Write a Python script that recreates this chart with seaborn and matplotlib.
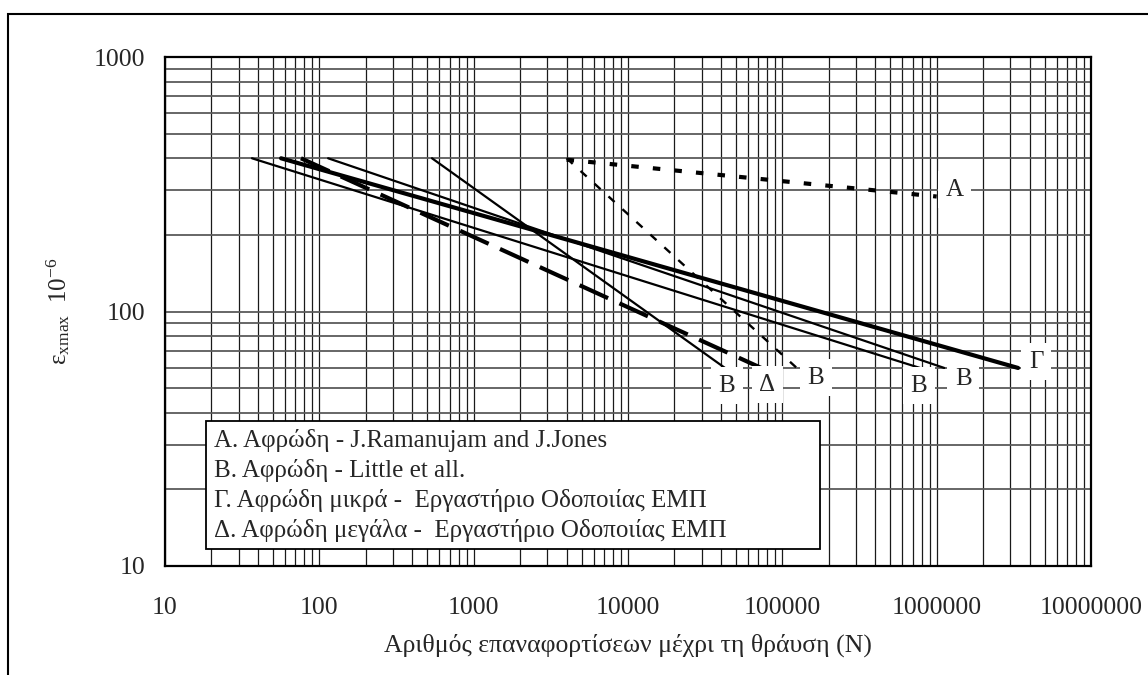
import matplotlib
matplotlib.use("Agg")
import matplotlib.pyplot as plt
import seaborn as sns
import pandas as pd
from matplotlib.lines import Line2D
from matplotlib.patches import Rectangle

# ---------------- data ----------------
# each curve: [start, end] of N (load repetitions) and strain eps (x10^-6)
A_N = [4000, 1000000]
A_eps = [395, 283]

B1_N = [537, 42500]        # steep Little et al. line
B1_eps = [400, 60]
B2_N = [4000, 124000]      # thin dashed Little et al. line
B2_eps = [400, 60]
B3_N = [36.6, 780000]
B3_eps = [400, 60]
B4_N = [114, 1120000]
B4_eps = [400, 60]

G_N = [56.5, 3370000]      # Γ
G_eps = [400, 60]
D_N = [76, 73000]          # Δ
D_eps = [400, 60]

curve_labels = ["A", "B", "B", "B", "B", "Γ", "Δ"]

legend_labels = [
    "A. Αφρώδη - J.Ramanujam and J.Jones",
    "B. Αφρώδη - Little et all.",
    "Γ. Αφρώδη μικρά -  Εργαστήριο Οδοποιίας ΕΜΠ",
    "Δ. Αφρώδη μεγάλα -  Εργαστήριο Οδοποιίας ΕΜΠ",
]

x_ticks = [10, 100, 1000, 10000, 100000, 1000000, 10000000]
x_ticklabels = ["10", "100", "1000", "10000", "100000", "1000000", "10000000"]
y_ticks = [10, 100, 1000]
y_ticklabels = ["10", "100", "1000"]

x_label = "Αριθμός επαναφορτίσεων μέχρι τη θράυση (N)"
y_label = r"$\mathregular{ε_{xmax}\ \ 10^{-6}}$"

# ---------------- style ----------------
sns.set_theme(style="white")
plt.rcParams["font.family"] = ["Liberation Serif", "DejaVu Serif"]
plt.rcParams["mathtext.fontset"] = "custom"
plt.rcParams["mathtext.rm"] = "Liberation Serif"
plt.rcParams["mathtext.it"] = "Liberation Serif:italic"

fig = plt.figure(figsize=(11.48, 6.75), dpi=100)
fig.patch.set_facecolor("white")
ax = fig.add_axes([165 / 1148, 1 - 566 / 675, 926 / 1148, 509 / 675])
ax.set_facecolor("white")

# outer frame (cropped on the right/bottom like the reference)
fig.patches.append(Rectangle((8 / 1148, -0.2), 1.5, 1.2 - 14 / 675,
                             transform=fig.transFigure, fill=False,
                             edgecolor="black", linewidth=1.5, zorder=0))

ax.set_xscale("log")
ax.set_yscale("log")
ax.set_xlim(10, 10000000)
ax.set_ylim(10, 1000)

# grid
ax.grid(True, which="both", axis="x", color="#1a1a1a", linewidth=0.9, zorder=0)
ax.grid(True, which="both", axis="y", color="#5a5a5a", linewidth=1.3, zorder=0)
ax.set_axisbelow(True)

def draw(N, eps, lw, ls):
    df = pd.DataFrame({"N": N, "eps": eps})
    sns.lineplot(data=df, x="N", y="eps", ax=ax, color="black",
                 linewidth=lw, linestyle=ls, zorder=3)

draw(A_N, A_eps, 3.0, (0, (1.8, 3.4)))
draw(B1_N, B1_eps, 1.6, "-")
draw(B2_N, B2_eps, 1.7, (0, (3.5, 4.5)))
draw(B3_N, B3_eps, 1.6, "-")
draw(B4_N, B4_eps, 1.6, "-")
draw(G_N, G_eps, 3.0, "-")
draw(D_N, D_eps, 3.0, (0, (7.5, 3.0)))

# curve end labels (white boxes cut the grid like the reference)
ends = [(A_N[1], A_eps[1]), (B1_N[1], B1_eps[1]), (B2_N[1], B2_eps[1]),
        (B3_N[1], B3_eps[1]), (B4_N[1], B4_eps[1]), (G_N[1], G_eps[1]),
        (D_N[1], D_eps[1])]
offsets = [(18, 7), (2, -18), (19, -10), (-1, -18), (19, -11), (18, 6), (6, -17)]
for lab, (xe, ye), (dx, dy) in zip(curve_labels, ends, offsets):
    ax.annotate(lab, xy=(xe, ye), xytext=(dx, dy), textcoords="offset pixels",
                ha="center", va="center", fontsize=18, zorder=5,
                bbox=dict(boxstyle="square,pad=0.3", fc="white", ec="none"))

# ticks
ax.set_xticks(x_ticks)
ax.set_xticklabels(x_ticklabels)
ax.set_yticks(y_ticks)
ax.set_yticklabels(y_ticklabels)
ax.tick_params(axis="both", which="both", length=0, labelsize=18.5)
ax.tick_params(axis="x", pad=22)
ax.tick_params(axis="y", pad=14)

ax.set_xlabel(x_label, fontsize=18.5, labelpad=11)
ax.set_ylabel(y_label, fontsize=18, labelpad=16)

for s in ax.spines.values():
    s.set_color("black")
    s.set_linewidth(1.6)
    s.set_visible(True)

# legend (text only, boxed)
handles = [Line2D([], [], linewidth=0) for _ in legend_labels]
leg = ax.legend(handles, legend_labels, loc="lower left",
                bbox_to_anchor=(41 / 926, 17 / 509, 614 / 926, 125 / 509),
                mode="expand", frameon=True,
                fancybox=False, edgecolor="black", facecolor="white",
                framealpha=1, fontsize=18, handlelength=0, handletextpad=0,
                labelspacing=0.28, borderpad=0.3, borderaxespad=0)
leg.get_frame().set_linewidth(1.3)
leg.set_zorder(6)

fig.savefig("out.png", dpi=100, facecolor="white")
